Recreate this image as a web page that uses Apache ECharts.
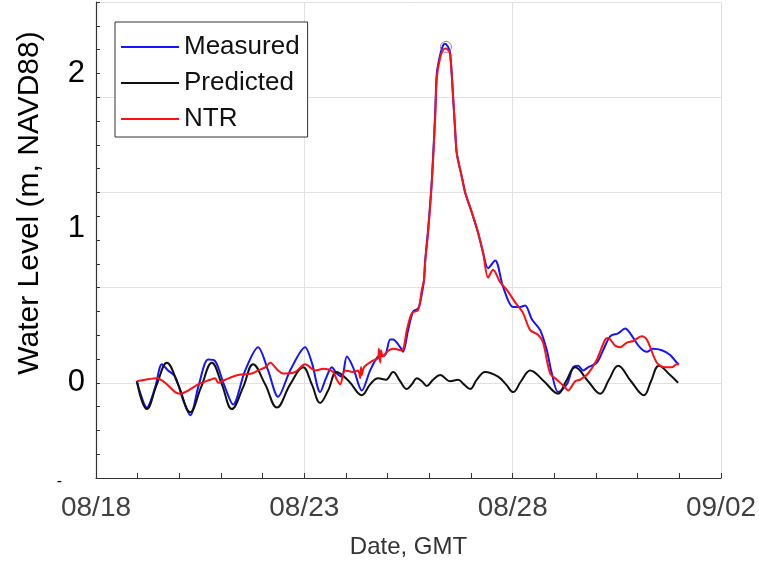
<!DOCTYPE html>
<html>
<head>
<meta charset="utf-8">
<script src="https://cdn.jsdelivr.net/npm/echarts@6/dist/echarts.min.js"></script>
<style>
  html, body { margin: 0; padding: 0; background: #fff; }
  #chart { width: 759px; height: 561px; }
</style>
</head>
<body>
<div id="chart"></div>
<script>
// x values are days after 08/18 (GMT), y values are metres NAVD88
const xTickLabels = ["08/18", "08/23", "08/28", "09/02"];
const yTickLabels = [0, 1, 2];

const measuredDays = [0.98, 1.22, 1.42, 1.58, 1.73, 1.90, 2.09, 2.26, 2.47, 2.69, 2.86, 3.07, 3.29, 3.58, 3.89, 4.13, 4.37, 4.66, 5.02, 5.18, 5.38, 5.52, 5.66, 5.78, 5.90, 6.02, 6.17, 6.38, 6.58, 6.77, 6.94, 7.06, 7.13, 7.30, 7.37, 7.49, 7.61, 7.73, 7.78, 7.87, 7.90, 7.97, 8.06, 8.14, 8.18, 8.26, 8.33, 8.38, 8.45, 8.50, 8.57, 8.62, 8.66, 8.78, 8.86, 9.02, 9.17, 9.29, 9.41, 9.58, 9.77, 10.01, 10.18, 10.30, 10.46, 10.66, 10.82, 10.94, 11.09, 11.30, 11.45, 11.57, 11.69, 11.81, 12.02, 12.17, 12.34, 12.53, 12.70, 12.82, 13.05, 13.22, 13.37, 13.58, 13.78, 13.94, 13.99];
const measuredLevels = [0.01, -0.16, -0.03, 0.12, 0.08, 0.04, -0.11, -0.21, -0.01, 0.15, 0.14, -0.01, -0.14, 0.08, 0.23, 0.08, -0.09, 0.08, 0.23, 0.13, -0.06, 0.03, 0.10, 0.06, 0.04, 0.17, 0.10, -0.05, 0.08, 0.17, 0.18, 0.28, 0.28, 0.23, 0.20, 0.34, 0.46, 0.48, 0.52, 0.66, 0.79, 0.99, 1.31, 1.74, 2.00, 2.12, 2.18, 2.19, 2.17, 2.13, 1.85, 1.63, 1.48, 1.33, 1.23, 1.10, 0.97, 0.84, 0.74, 0.79, 0.62, 0.49, 0.49, 0.50, 0.41, 0.34, 0.21, 0.06, -0.06, -0.01, 0.10, 0.11, 0.08, 0.10, 0.13, 0.21, 0.30, 0.32, 0.35, 0.32, 0.23, 0.20, 0.22, 0.21, 0.18, 0.13, 0.12];

const predictedDays = [0.98, 1.22, 1.46, 1.70, 1.97, 2.26, 2.52, 2.78, 3.02, 3.26, 3.53, 3.77, 4.06, 4.34, 4.66, 4.97, 5.18, 5.38, 5.57, 5.78, 6.07, 6.38, 6.58, 6.77, 6.96, 7.13, 7.30, 7.46, 7.58, 7.70, 7.82, 7.94, 8.09, 8.26, 8.50, 8.69, 8.83, 8.98, 9.14, 9.34, 9.65, 9.84, 10.01, 10.20, 10.42, 10.75, 11.09, 11.28, 11.50, 11.81, 12.10, 12.31, 12.53, 12.84, 13.15, 13.32, 13.51, 13.78, 13.97];
const predictedLevels = [0.01, -0.17, -0.01, 0.13, -0.01, -0.19, -0.03, 0.13, -0.01, -0.17, -0.03, 0.12, -0.01, -0.16, -0.01, 0.10, -0.01, -0.13, -0.05, 0.07, 0.01, -0.08, -0.01, 0.03, 0.02, 0.07, 0.01, -0.04, -0.01, 0.03, 0.01, -0.02, 0.02, 0.05, 0.01, 0.02, -0.01, -0.04, 0.02, 0.07, 0.04, -0.01, -0.06, 0.01, 0.08, 0.01, -0.07, 0.01, 0.10, 0.01, -0.07, 0.02, 0.11, 0.01, -0.08, 0.01, 0.11, 0.05, 0.00];

const ntrDays = [0.98, 1.18, 1.46, 1.66, 1.90, 2.02, 2.21, 2.45, 2.74, 2.86, 2.93, 3.10, 3.41, 3.74, 3.89, 4.06, 4.18, 4.37, 4.49, 4.78, 5.02, 5.26, 5.45, 5.69, 5.78, 5.86, 5.98, 6.17, 6.29, 6.34, 6.36, 6.38, 6.43, 6.62, 6.77, 6.79, 6.82, 6.84, 6.89, 6.98, 7.13, 7.34, 7.46, 7.58, 7.73, 7.82, 7.87, 7.90, 7.97, 8.06, 8.14, 8.18, 8.26, 8.33, 8.40, 8.45, 8.50, 8.57, 8.62, 8.66, 8.78, 8.86, 9.02, 9.17, 9.29, 9.41, 9.53, 9.70, 9.86, 10.06, 10.25, 10.42, 10.61, 10.73, 10.90, 11.06, 11.26, 11.33, 11.50, 11.62, 11.81, 12.02, 12.22, 12.29, 12.46, 12.58, 12.74, 12.89, 13.10, 13.22, 13.46, 13.66, 13.82, 13.94, 13.99];
const ntrLevels = [0.01, 0.02, 0.03, 0.00, -0.06, -0.07, -0.05, -0.01, 0.02, 0.03, 0.00, 0.02, 0.05, 0.06, 0.08, 0.10, 0.13, 0.08, 0.06, 0.07, 0.12, 0.08, 0.09, 0.07, 0.02, -0.01, 0.08, 0.07, 0.08, 0.03, 0.10, 0.05, 0.10, 0.14, 0.16, 0.22, 0.13, 0.21, 0.17, 0.20, 0.22, 0.21, 0.34, 0.45, 0.47, 0.60, 0.66, 0.78, 0.97, 1.30, 1.71, 1.97, 2.10, 2.15, 2.16, 2.15, 2.12, 1.85, 1.63, 1.48, 1.33, 1.23, 1.10, 0.97, 0.84, 0.68, 0.73, 0.65, 0.60, 0.52, 0.45, 0.34, 0.31, 0.26, 0.06, 0.02, -0.03, -0.05, 0.01, 0.02, 0.06, 0.15, 0.28, 0.29, 0.24, 0.23, 0.26, 0.27, 0.30, 0.28, 0.13, 0.10, 0.10, 0.12, 0.12];

const peakDay = [8.4];
const peakLevel = [2.17];

const zip = (xs, ys) => xs.map((x, i) => [x, ys[i]]);
const font = "Liberation Sans, Arial, sans-serif";
const yStep = 0.615;

const chart = echarts.init(document.getElementById("chart"));

chart.setOption({
  animation: false,
  backgroundColor: "#fff",
  grid: { left: 96, right: 38, top: 2, bottom: 83, outerBoundsMode: "none" },
  legend: {
    data: ["Measured", "Predicted", "NTR"],
    orient: "vertical",
    left: 115,
    top: 22,
    padding: [12, 8, 5, 5],
    itemWidth: 58,
    itemHeight: 14,
    itemGap: 10,
    itemStyle: { opacity: 0 },
    backgroundColor: "#fff",
    borderColor: "#333",
    borderWidth: 1,
    borderRadius: 0,
    textStyle: { fontFamily: font, fontSize: 26, color: "#111" },
  },
  xAxis: {
    type: "value",
    min: 0,
    max: 15,
    interval: 5,
    name: "Date, GMT",
    nameLocation: "middle",
    nameGap: 57,
    nameTextStyle: { fontFamily: font, fontSize: 24, color: "#333" },
    axisLine: { onZero: false, lineStyle: { color: "#333", width: 1.2 } },
    axisTick: { inside: true, length: 5, lineStyle: { color: "#333" } },
    minorTick: { show: true, splitNumber: 5, length: 5, lineStyle: { color: "#333" } },
    axisLabel: {
      margin: 16,
      fontFamily: font,
      fontSize: 28,
      color: "#404040",
      showMinLabel: true,
      showMaxLabel: true,
      formatter: (v) => xTickLabels[Math.round(v / 5)] || "",
    },
    splitLine: { show: true, lineStyle: { color: "#e2e2e2", width: 1 } },
  },
  yAxis: {
    type: "value",
    min: -yStep,
    max: 4 * yStep,
    interval: yStep,
    axisLine: { show: true, onZero: false, lineStyle: { color: "#333", width: 1.2 } },
    axisTick: { show: true, inside: true, length: 4, lineStyle: { color: "#333" } },
    minorTick: { show: true, splitNumber: 4, length: 4, lineStyle: { color: "#333" } },
    axisLabel: {
      customValues: [-yStep].concat(yTickLabels),
      margin: 11,
      fontFamily: font,
      fontSize: 31,
      color: "#000",
      formatter: (v) => (v < 0 ? "{d|-}" : String(v)),
      rich: { d: { fontSize: 16, padding: [8, 23, 0, 0], color: "#000" } },
    },
    splitLine: { show: true, lineStyle: { color: "#e2e2e2", width: 1 } },
  },
  graphic: [
    {
      type: "text",
      x: 30,
      y: 203,
      rotation: Math.PI / 2,
      style: {
        text: "Water Level (m, NAVD88)",
        fontFamily: font,
        fontSize: 30,
        fill: "#000",
        align: "center",
        verticalAlign: "middle",
      },
    },
  ],
  series: [
    {
      name: "Measured",
      type: "line",
      data: zip(measuredDays, measuredLevels),
      symbol: "none",
      smooth: 0.3,
      lineStyle: { color: "#1414ff", width: 2 },
      itemStyle: { color: "#1414ff" },
    },
    {
      name: "Predicted",
      type: "line",
      data: zip(predictedDays, predictedLevels),
      symbol: "none",
      smooth: 0.4,
      lineStyle: { color: "#111", width: 2 },
      itemStyle: { color: "#111" },
    },
    {
      name: "NTR",
      type: "line",
      data: zip(ntrDays, ntrLevels),
      symbol: "none",
      smooth: 0.3,
      lineStyle: { color: "#ff1010", width: 2 },
      itemStyle: { color: "#ff1010" },
    },
    {
      name: "peak",
      type: "scatter",
      data: zip(peakDay, peakLevel),
      symbol: "circle",
      symbolSize: 11,
      itemStyle: { color: "rgba(0,0,0,0)", borderColor: "#8e5b9e", borderWidth: 1 },
      z: 5,
    },
  ],
});
</script>
</body>
</html>
